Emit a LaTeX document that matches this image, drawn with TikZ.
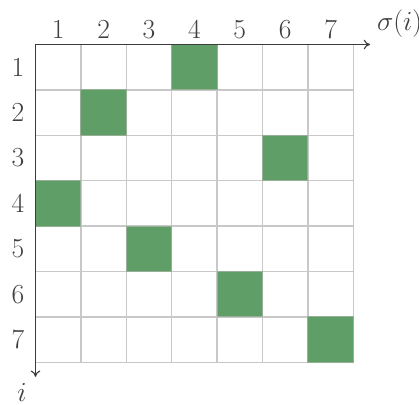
\documentclass[tikz,border=0pt]{standalone}
\usetikzlibrary{arrows.meta}
\definecolor{cellgreen}{RGB}{96,158,104}
\definecolor{cellborder}{RGB}{150,175,150}
\definecolor{gridgray}{RGB}{200,200,200}
\definecolor{axisgray}{RGB}{60,60,60}
\begin{document}
\begin{tikzpicture}[x=1cm,y=1cm,
  lab/.style={font=\LARGE, text=black!75},
  cellbox/.style={fill=cellgreen, draw=cellborder, line width=0.6pt},
  gridline/.style={draw=gridgray, line width=0.9pt},
  axisline/.style={draw=axisgray, line width=0.7pt, -{To[length=4pt,width=6pt]}}]
\useasboundingbox (-0.782,0.980) rectangle (8.447,-7.919);
\foreach \k in {1,...,7} {
  \draw[gridline] (\k,0) -- (\k,-7);
  \draw[gridline] (0,-\k) -- (7,-\k);
}
\foreach \r/\c in {1/4,2/2,3/6,4/1,5/3,6/5,7/7}
  \draw[cellbox] (\c-1,-\r+1) rectangle (\c,-\r);
\coordinate (o) at (0,0);
\coordinate (xe) at (7.37,0);
\coordinate (ye) at (0,-7.32);
\draw[axisline] (o) -- (xe);
\draw[axisline] (o) -- (ye);
\foreach \k in {1,...,7} {
  \node[lab] (c\k) at (\k-0.5,0.33) {\k};
  \node[lab] (r\k) at (-0.385,-\k+0.5) {\k};
}
\node[lab, inner sep=0.5pt] (sig) at (8.02,0.45) {$\sigma(i)$};
\node[lab, inner sep=0.5pt] (iv) at (-0.3,-7.66) {$i$};
\end{tikzpicture}
\end{document}
